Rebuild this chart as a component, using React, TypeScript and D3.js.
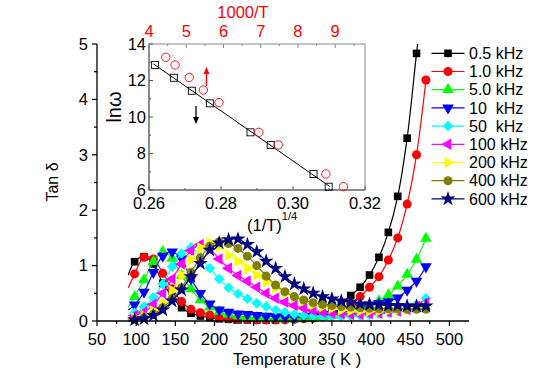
import React from 'react';
import * as d3 from 'd3';

// ---------- main chart data ----------
const temps = [90, 98, 110, 122, 134, 146, 158, 170, 182, 194, 206, 218, 230, 242, 254, 266, 278, 290, 302, 314, 326, 338, 350, 362, 374, 386, 398, 410, 422, 434, 446, 458, 470];

const tan05k = [0.83, 1.07, 1.16, 1.03, 0.68, 0.45, 0.24, 0.14, 0.09, 0.06, 0.04, 0.03, 0.02, 0.02, 0.02, 0.02, 0.02, 0.03, 0.04, 0.06, 0.09, 0.13, 0.2, 0.32, 0.46, 0.61, 0.83, 1.15, 1.6, 2.25, 3.3, 4.83, 6.3];
const tan1k = [0.6, 0.85, 1.15, 1.12, 0.86, 0.58, 0.35, 0.21, 0.15, 0.11, 0.07, 0.05, 0.04, 0.03, 0.02, 0.02, 0.02, 0.02, 0.03, 0.04, 0.05, 0.08, 0.12, 0.19, 0.32, 0.44, 0.61, 0.8, 1.1, 1.5, 2.11, 3.0, 4.35];
const tan5k = [0.25, 0.44, 0.74, 1.07, 1.25, 1.13, 0.82, 0.58, 0.38, 0.25, 0.17, 0.12, 0.09, 0.07, 0.06, 0.05, 0.04, 0.04, 0.04, 0.05, 0.06, 0.08, 0.1, 0.13, 0.18, 0.23, 0.28, 0.36, 0.47, 0.63, 0.84, 1.11, 1.49];
const tan10k = [0.2, 0.29, 0.52, 0.88, 1.17, 1.25, 1.12, 0.76, 0.5, 0.31, 0.2, 0.16, 0.13, 0.12, 0.1, 0.09, 0.08, 0.07, 0.07, 0.08, 0.09, 0.1, 0.12, 0.15, 0.2, 0.25, 0.29, 0.32, 0.35, 0.42, 0.56, 0.72, 0.98];
const tan50k = [0.1, 0.15, 0.26, 0.43, 0.67, 0.98, 1.22, 1.33, 1.15, 0.95, 0.76, 0.6, 0.49, 0.4, 0.32, 0.26, 0.2, 0.16, 0.12, 0.1, 0.09, 0.08, 0.08, 0.08, 0.09, 0.1, 0.11, 0.13, 0.15, 0.18, 0.23, 0.3, 0.41];
const tan100k = [0.05, 0.1, 0.16, 0.3, 0.5, 0.76, 1.03, 1.27, 1.38, 1.3, 1.12, 0.95, 0.82, 0.72, 0.61, 0.5, 0.41, 0.34, 0.28, 0.23, 0.19, 0.16, 0.14, 0.13, 0.12, 0.12, 0.13, 0.14, 0.16, 0.18, 0.21, 0.26, 0.33];
const tan200k = [0.03, 0.06, 0.1, 0.18, 0.32, 0.55, 0.82, 1.1, 1.32, 1.41, 1.34, 1.19, 1.08, 0.95, 0.83, 0.71, 0.6, 0.5, 0.43, 0.36, 0.3, 0.26, 0.23, 0.2, 0.19, 0.18, 0.18, 0.18, 0.19, 0.2, 0.22, 0.24, 0.27];
const tan400k = [0.02, 0.03, 0.06, 0.12, 0.24, 0.4, 0.6, 0.88, 1.14, 1.35, 1.43, 1.4, 1.31, 1.17, 1.0, 0.81, 0.65, 0.53, 0.44, 0.38, 0.33, 0.3, 0.28, 0.26, 0.25, 0.24, 0.23, 0.22, 0.22, 0.22, 0.21, 0.21, 0.21];
const tan600k = [0.0, 0.02, 0.04, 0.1, 0.2, 0.36, 0.56, 0.8, 1.04, 1.28, 1.41, 1.47, 1.48, 1.38, 1.25, 1.08, 0.95, 0.8, 0.67, 0.58, 0.5, 0.44, 0.4, 0.36, 0.34, 0.31, 0.3, 0.29, 0.28, 0.28, 0.27, 0.27, 0.27];

const seriesLabels = ['0.5 kHz', '1.0 kHz', '5.0 kHz', '10  kHz', '50  kHz', '100 kHz', '200 kHz', '400 kHz', '600 kHz'];
const seriesValues = [tan05k, tan1k, tan5k, tan10k, tan50k, tan100k, tan200k, tan400k, tan600k];
const seriesColors = ['#000000', '#ff0000', '#00ff00', '#0000ff', '#00ffff', '#ff00ff', '#ffff00', '#808000', '#000080'];
const seriesSymbols = ['square', 'circle', 'triUp', 'triDown', 'diamond', 'triLeft', 'triRight', 'circle', 'star'];

const xTicks = [50, 100, 150, 200, 250, 300, 350, 400, 450, 500];
const yTicks = [0, 1, 2, 3, 4, 5];

// ---------- inset data ----------
const insetSqX = [0.2617, 0.2669, 0.2719, 0.2769, 0.2882, 0.2938, 0.3057, 0.3099];
const insetSqY = [12.85, 12.15, 11.44, 10.75, 9.16, 8.47, 6.88, 6.18];
const insetCircX = [4.45, 4.70, 5.08, 5.46, 5.88, 6.95, 7.47, 8.75, 9.22];
const insetCircY = [13.27, 12.85, 12.17, 11.48, 10.79, 9.16, 8.47, 6.88, 6.18];
const insetFitRange = [0.2612, 0.3102];
const insetXTicks = [0.26, 0.28, 0.30, 0.32];
const insetYTicks = [6, 8, 10, 12, 14];
const insetTopTicks = [4, 5, 6, 7, 8, 9];

const FONT = '"Liberation Sans", Arial, Helvetica, sans-serif';

function symbolPath(kind: string, size: number): { d: string; rot: number } {
  const gen = d3.symbol();
  switch (kind) {
    case 'square': return { d: gen.type(d3.symbolSquare).size(size)() as string, rot: 0 };
    case 'circle': return { d: gen.type(d3.symbolCircle).size(size * 1.1)() as string, rot: 0 };
    case 'triUp': return { d: gen.type(d3.symbolTriangle).size(size)() as string, rot: 0 };
    case 'triDown': return { d: gen.type(d3.symbolTriangle).size(size)() as string, rot: 180 };
    case 'triLeft': return { d: gen.type(d3.symbolTriangle).size(size)() as string, rot: -90 };
    case 'triRight': return { d: gen.type(d3.symbolTriangle).size(size)() as string, rot: 90 };
    case 'diamond': return { d: gen.type(d3.symbolSquare).size(size * 0.95)() as string, rot: 45 };
    case 'star': return { d: gen.type(d3.symbolStar).size(size * 1.2)() as string, rot: 0 };
    default: return { d: gen.type(d3.symbolCircle).size(size)() as string, rot: 0 };
  }
}

export default function App() {
  const W = 545, H = 385;
  const x = d3.scaleLinear().domain([50, 525]).range([97, 469]);
  const y = d3.scaleLinear().domain([0, 5]).range([321, 44]);

  const ix = d3.scaleLinear().domain([0.26, 0.32]).range([149, 365]);
  const iy = d3.scaleLinear().domain([6, 14]).range([190, 44]);
  const itop = d3.scaleLinear().domain([4, 9.8]).range([149, 365]);

  const line = d3.line<number>()
    .x((_, i) => x(temps[i]))
    .y((v) => y(v))
    .curve(d3.curveCatmullRom.alpha(0.5));

  const xMinor = d3.range(50, 525, 25);
  const yMinor = d3.range(0, 5.01, 0.5);

  // linear regression for inset fit line
  const mx = d3.mean(insetSqX) as number;
  const my = d3.mean(insetSqY) as number;
  let num = 0, den = 0;
  insetSqX.forEach((xv, i) => { num += (xv - mx) * (insetSqY[i] - my); den += (xv - mx) * (xv - mx); });
  const slope = num / den;
  const icpt = my - slope * mx;

  const legendY0 = 53.3, legendStep = 18.2;

  const iXMinor = [0.27, 0.29, 0.31];
  const iYMinor = [7, 9, 11, 13];
  const iTopMinor = d3.range(4.5, 9.8, 1);

  const MS = 58;

  return (
    <svg width={W} height={H} style={{ position: 'absolute', left: 0, top: 0, background: '#fff' }} fontFamily={FONT}>
      <defs>
        <clipPath id="plotClip">
          <rect x={90} y={44} width={390} height={290} />
        </clipPath>
      </defs>
      <rect x={0} y={0} width={W} height={H} fill="#fff" />

      {/* series */}
      <g clipPath="url(#plotClip)">
        {seriesValues.map((vals, si) => {
          const sym = symbolPath(seriesSymbols[si], MS);
          return (
            <g key={si}>
              <path d={line(vals) as string} fill="none" stroke={seriesColors[si]} strokeWidth={1.2} />
              {vals.map((v, i) => i === 0 ? null : (
                <path key={i} d={sym.d} fill={seriesColors[si]}
                  transform={`translate(${x(temps[i])},${y(v)}) rotate(${sym.rot})`} />
              ))}
            </g>
          );
        })}
      </g>

      {/* main axes */}
      <line x1={x(50)} x2={x(525)} y1={y(0)} y2={y(0)} stroke="#000" strokeWidth={1.3} />
      <line x1={x(50)} x2={x(50)} y1={y(0)} y2={y(5)} stroke="#000" strokeWidth={1.3} />
      {xMinor.map((t) => (
        <line key={'xm' + t} x1={x(t)} x2={x(t)} y1={y(0)} y2={y(0) + (t % 50 === 0 ? 5 : 3)} stroke="#000" strokeWidth={1.2} />
      ))}
      {xTicks.map((t) => (
        <text key={'xt' + t} x={x(t)} y={345} fontSize={16.5} textAnchor="middle" fill="#000">{t}</text>
      ))}
      {yMinor.map((t) => (
        <line key={'ym' + t} x1={x(50) - (Math.abs(t - Math.round(t)) < 1e-6 ? 5 : 3)} x2={x(50)} y1={y(t)} y2={y(t)} stroke="#000" strokeWidth={1.2} />
      ))}
      {yTicks.map((t) => (
        <text key={'yt' + t} x={88} y={y(t)} dy="0.35em" fontSize={16.5} textAnchor="end" fill="#000">{t}</text>
      ))}
      <text x={297} y={365} fontSize={16.5} textAnchor="middle" fill="#000">Temperature ( K )</text>
      <text transform="translate(58,182) rotate(-90)" fontSize={16} textAnchor="middle" fill="#000">Tan δ</text>

      {/* legend */}
      {seriesLabels.map((lab, si) => {
        const ly = legendY0 + si * legendStep;
        const sym = symbolPath(seriesSymbols[si], MS);
        return (
          <g key={'lg' + si}>
            <line x1={431.5} x2={464.5} y1={ly} y2={ly} stroke={seriesColors[si]} strokeWidth={1.2} />
            <path d={sym.d} fill={seriesColors[si]} transform={`translate(448,${ly}) rotate(${sym.rot})`} />
            <text x={469} y={ly} dy="0.35em" fontSize={16} fill="#000" style={{ whiteSpace: 'pre' }} xmlSpace="preserve">{lab}</text>
          </g>
        );
      })}

      {/* inset */}
      <g>
        <rect x={149} y={44} width={216} height={146} fill="#fff" stroke="#888" strokeWidth={1} />
        <line x1={149} x2={149} y1={44} y2={190} stroke="#555" strokeWidth={1} />
        <line x1={149} x2={365} y1={190} y2={190} stroke="#555" strokeWidth={1} />
        {insetXTicks.map((t) => (
          <g key={'ixt' + t}>
            <line x1={ix(t)} x2={ix(t)} y1={190} y2={186} stroke="#555" />
            <text x={ix(t)} y={208.5} fontSize={16.5} textAnchor="middle" fill="#000">{t.toFixed(2)}</text>
          </g>
        ))}
        {iXMinor.map((t) => (
          <line key={'ixm' + t} x1={ix(t)} x2={ix(t)} y1={190} y2={188} stroke="#555" />
        ))}
        {insetYTicks.map((t) => (
          <g key={'iyt' + t}>
            <line x1={149} x2={153} y1={iy(t)} y2={iy(t)} stroke="#555" />
            <text x={146} y={iy(t)} dy="0.35em" fontSize={16.5} textAnchor="end" fill="#000">{t}</text>
          </g>
        ))}
        {iYMinor.map((t) => (
          <line key={'iym' + t} x1={149} x2={151} y1={iy(t)} y2={iy(t)} stroke="#555" />
        ))}
        {insetTopTicks.map((t) => (
          <g key={'itt' + t}>
            <line x1={itop(t)} x2={itop(t)} y1={44} y2={48} stroke="#888" />
            <text x={itop(t)} y={37} fontSize={16.5} textAnchor="middle" fill="#ff0000">{t}</text>
          </g>
        ))}
        {iTopMinor.map((t) => (
          <line key={'itm' + t} x1={itop(t)} x2={itop(t)} y1={44} y2={46} stroke="#888" />
        ))}
        <text x={243} y={18} fontSize={16.5} textAnchor="middle" fill="#ff0000">1000/T</text>
        <text transform="translate(121,107) rotate(-90)" fontSize={20} textAnchor="middle" fill="#000">lnω</text>
        <text x={247} y={231} fontSize={16.5} fill="#000">(1/T)<tspan fontSize={11} dy={-11}>1/4</tspan></text>

        {/* fit line */}
        <line x1={ix(insetFitRange[0])} y1={iy(slope * insetFitRange[0] + icpt)}
          x2={ix(insetFitRange[1])} y2={iy(slope * insetFitRange[1] + icpt)} stroke="#000" strokeWidth={1} />
        {insetSqX.map((xv, i) => (
          <rect key={'sq' + i} x={ix(xv) - 3.5} y={iy(insetSqY[i]) - 3.5} width={7} height={7} fill="none" stroke="#000" strokeWidth={0.9} />
        ))}
        {insetCircX.map((xv, i) => (
          <circle key={'ci' + i} cx={itop(xv)} cy={iy(insetCircY[i])} r={4.2} fill="none" stroke="#ff0000" strokeWidth={0.9} />
        ))}
        {/* arrows */}
        <line x1={206.5} x2={206.5} y1={86} y2={72} stroke="#ff0000" strokeWidth={1.3} />
        <path d="M206.5,67 L203.5,74 L209.5,74 Z" fill="#ff0000" />
        <line x1={196} x2={196} y1={106} y2={119} stroke="#000" strokeWidth={1.3} />
        <path d="M196,124 L193,117 L199,117 Z" fill="#000" />
      </g>
    </svg>
  );
}
